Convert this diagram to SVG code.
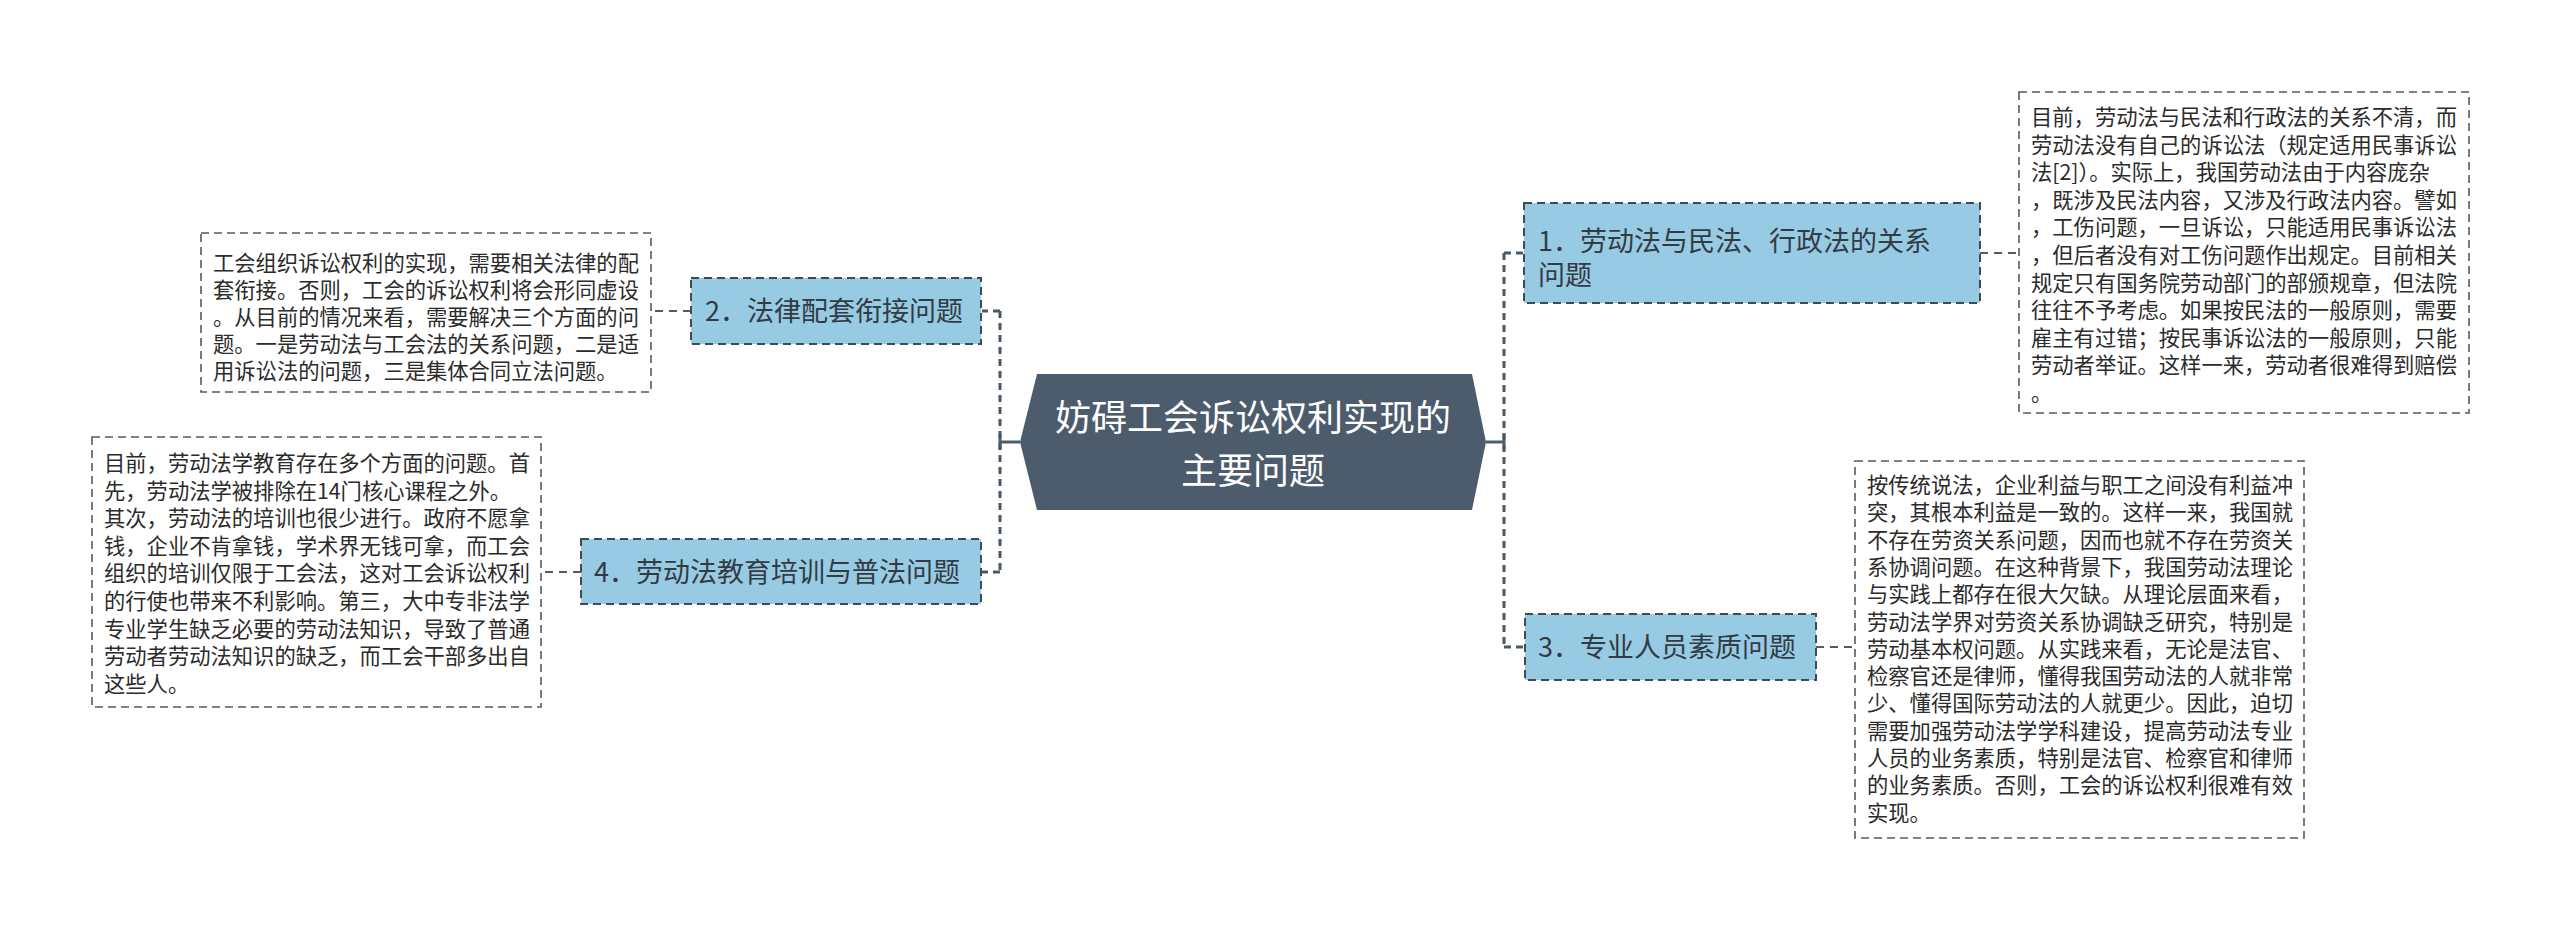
<svg xmlns="http://www.w3.org/2000/svg" width="2560" height="931" viewBox="0 0 2560 931">
<style>
.bg{fill:#ffffff}
.root{fill:#4c5c6c}
.rootText{font-family:"Noto Sans CJK SC","Noto Sans",sans-serif;font-size:36px;fill:#ffffff;text-anchor:middle}
.topic{fill:#97cae3;stroke:#3f4a55;stroke-width:2;stroke-dasharray:8 5}
.topicText{font-family:"Noto Sans CJK SC","Noto Sans",sans-serif;font-size:27px;fill:#333b44}
.note{fill:#ffffff;stroke:#555b61;stroke-width:1.6;stroke-dasharray:8 5}
.noteText{font-family:"Noto Sans CJK SC","Noto Sans",sans-serif;font-size:21.3px;fill:#2b2b2b}
.bracket{fill:none;stroke:#4a5866;stroke-width:3;stroke-dasharray:7 5}
.stub{fill:none;stroke:#4a5866;stroke-width:3;stroke-dasharray:7 5}
.link{fill:none;stroke:#555b61;stroke-width:2;stroke-dasharray:8 6}
.solid{fill:none;stroke:#4c5c6c;stroke-width:3}
</style>
<rect class="bg" x="0" y="0" width="2560" height="931"/>

<g id="connectors">
  <!-- left bracket -->
  <line class="solid" x1="1020" y1="442" x2="1000" y2="442"/>
  <line class="solid" x1="1000" y1="434" x2="1000" y2="450"/>
  <line class="bracket" x1="1000" y1="311" x2="1000" y2="572"/>
  <line class="stub" x1="1000" y1="311" x2="982" y2="311"/>
  <line class="stub" x1="1000" y1="572" x2="982" y2="572"/>
  <!-- right bracket -->
  <line class="solid" x1="1486" y1="442" x2="1504" y2="442"/>
  <line class="solid" x1="1504" y1="434" x2="1504" y2="450"/>
  <line class="bracket" x1="1504" y1="253" x2="1504" y2="647"/>
  <line class="stub" x1="1504" y1="253" x2="1523" y2="253"/>
  <line class="stub" x1="1504" y1="647" x2="1524" y2="647"/>
  <!-- topic to note -->
  <line class="link" x1="691" y1="311" x2="651" y2="311"/>
  <line class="link" x1="581" y1="572" x2="541" y2="572"/>
  <line class="link" x1="1980" y1="253" x2="2019" y2="253"/>
  <line class="link" x1="1816" y1="647" x2="1855" y2="647"/>
</g>

<g id="root">
  <polygon class="root" points="1037,374 1472,374 1486,442 1472,510 1037,510 1020,442"/>
  <text class="rootText" x="1253" y="431">妨碍工会诉讼权利实现的</text>
  <text class="rootText" x="1253" y="484">主要问题</text>
</g>

<g id="topic1">
  <rect class="topic" x="1524" y="203" width="456" height="100"/>
  <text class="topicText" x="1538" y="251">1．劳动法与民法、行政法的关系</text>
  <text class="topicText" x="1538" y="285">问题</text>
</g>

<g id="topic2">
  <rect class="topic" x="691" y="278" width="290" height="66"/>
  <text class="topicText" x="705" y="321">2．法律配套衔接问题</text>
</g>

<g id="topic3">
  <rect class="topic" x="1525" y="614" width="291" height="66"/>
  <text class="topicText" x="1538" y="657">3．专业人员素质问题</text>
</g>

<g id="topic4">
  <rect class="topic" x="581" y="539" width="400" height="65"/>
  <text class="topicText" x="594" y="582">4．劳动法教育培训与普法问题</text>
</g>

<g id="note1">
  <rect class="note" x="2019" y="92" width="450" height="321"/>
  <text class="noteText">
    <tspan x="2031" y="125">目前，劳动法与民法和行政法的关系不清，而</tspan>
    <tspan x="2031" y="152.6">劳动法没有自己的诉讼法（规定适用民事诉讼</tspan>
    <tspan x="2031" y="180.2">法[2]）。实际上，我国劳动法由于内容庞杂</tspan>
    <tspan x="2031" y="207.8">，既涉及民法内容，又涉及行政法内容。譬如</tspan>
    <tspan x="2031" y="235.4">，工伤问题，一旦诉讼，只能适用民事诉讼法</tspan>
    <tspan x="2031" y="263">，但后者没有对工伤问题作出规定。目前相关</tspan>
    <tspan x="2031" y="290.6">规定只有国务院劳动部门的部颁规章，但法院</tspan>
    <tspan x="2031" y="318.2">往往不予考虑。如果按民法的一般原则，需要</tspan>
    <tspan x="2031" y="345.8">雇主有过错；按民事诉讼法的一般原则，只能</tspan>
    <tspan x="2031" y="373.4">劳动者举证。这样一来，劳动者很难得到赔偿</tspan>
    <tspan x="2031" y="401">。</tspan>
  </text>
</g>

<g id="note2">
  <rect class="note" x="201" y="233" width="450" height="159"/>
  <text class="noteText">
    <tspan x="213" y="271">工会组织诉讼权利的实现，需要相关法律的配</tspan>
    <tspan x="213" y="298">套衔接。否则，工会的诉讼权利将会形同虚设</tspan>
    <tspan x="213" y="325">。从目前的情况来看，需要解决三个方面的问</tspan>
    <tspan x="213" y="352">题。一是劳动法与工会法的关系问题，二是适</tspan>
    <tspan x="213" y="379">用诉讼法的问题，三是集体合同立法问题。</tspan>
  </text>
</g>

<g id="note3">
  <rect class="note" x="1855" y="461" width="449" height="377"/>
  <text class="noteText">
    <tspan x="1867" y="493">按传统说法，企业利益与职工之间没有利益冲</tspan>
    <tspan x="1867" y="520.3">突，其根本利益是一致的。这样一来，我国就</tspan>
    <tspan x="1867" y="547.6">不存在劳资关系问题，因而也就不存在劳资关</tspan>
    <tspan x="1867" y="574.9">系协调问题。在这种背景下，我国劳动法理论</tspan>
    <tspan x="1867" y="602.2">与实践上都存在很大欠缺。从理论层面来看，</tspan>
    <tspan x="1867" y="629.5">劳动法学界对劳资关系协调缺乏研究，特别是</tspan>
    <tspan x="1867" y="656.8">劳动基本权问题。从实践来看，无论是法官、</tspan>
    <tspan x="1867" y="684.1">检察官还是律师，懂得我国劳动法的人就非常</tspan>
    <tspan x="1867" y="711.4">少、懂得国际劳动法的人就更少。因此，迫切</tspan>
    <tspan x="1867" y="738.7">需要加强劳动法学学科建设，提高劳动法专业</tspan>
    <tspan x="1867" y="766">人员的业务素质，特别是法官、检察官和律师</tspan>
    <tspan x="1867" y="793.3">的业务素质。否则，工会的诉讼权利很难有效</tspan>
    <tspan x="1867" y="820.6">实现。</tspan>
  </text>
</g>

<g id="note4">
  <rect class="note" x="92" y="437" width="449" height="270"/>
  <text class="noteText">
    <tspan x="104" y="471">目前，劳动法学教育存在多个方面的问题。首</tspan>
    <tspan x="104" y="498.6">先，劳动法学被排除在14门核心课程之外。</tspan>
    <tspan x="104" y="526.2">其次，劳动法的培训也很少进行。政府不愿拿</tspan>
    <tspan x="104" y="553.8">钱，企业不肯拿钱，学术界无钱可拿，而工会</tspan>
    <tspan x="104" y="581.4">组织的培训仅限于工会法，这对工会诉讼权利</tspan>
    <tspan x="104" y="609">的行使也带来不利影响。第三，大中专非法学</tspan>
    <tspan x="104" y="636.6">专业学生缺乏必要的劳动法知识，导致了普通</tspan>
    <tspan x="104" y="664.2">劳动者劳动法知识的缺乏，而工会干部多出自</tspan>
    <tspan x="104" y="691.8">这些人。</tspan>
  </text>
</g>
</svg>
